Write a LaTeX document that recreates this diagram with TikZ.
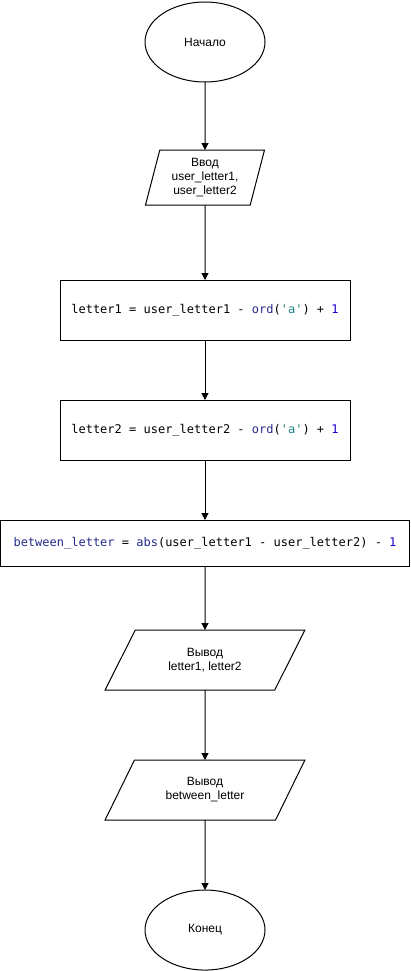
\documentclass[tikz,border=0pt]{standalone}
\usepackage{fontspec}
\setmainfont{Liberation Sans}
\setmonofont{DejaVu Sans Mono}
\usetikzlibrary{arrows.meta, positioning, shapes.geometric}
\definecolor{cnavy}{HTML}{262B8C}
\definecolor{cteal}{HTML}{1F7F80}
\definecolor{cnum}{HTML}{1C00CF}
\newcommand{\kw}[1]{\textcolor{cnavy}{#1}}
\newcommand{\str}[1]{\textcolor{cteal}{#1}}
\newcommand{\num}[1]{\textcolor{cnum}{#1}}
\tikzset{
  every picture/.style={font=\fontsize{12}{14}\selectfont, line width=1pt},
  every node/.style={outer sep=0pt},
  term/.style={draw, ellipse, minimum width=120pt, minimum height=80pt, inner sep=0pt},
  io/.style={draw, trapezium, trapezium left angle=#1, trapezium right angle=180-#1,
    trapezium stretches=true, align=center, inner sep=0pt},
  proc/.style={draw, rectangle, align=center, inner sep=0pt, font=\ttfamily\fontsize{12}{14}\selectfont},
  arrow/.style={-{Triangle[length=7pt, width=7pt]}},
}

\begin{document}
\begin{tikzpicture}
  \useasboundingbox (0,0) rectangle (411pt,-971pt);
  \node[term] (start) at (205pt,-42pt) {Начало};
  \node[io=74.7, minimum width=120pt, minimum height=55pt, below=68pt of start] (input) {Ввод\\user\_letter1,\\user\_letter2};
  \node[proc, minimum width=290pt, minimum height=60pt, below=75pt of input] (calc1)
    {letter1 = user\_letter1 - \kw{ord}(\str{'a'}) + \num{1}};
  \node[proc, minimum width=290pt, minimum height=60pt, below=60pt of calc1] (calc2)
    {letter2 = user\_letter2 - \kw{ord}(\str{'a'}) + \num{1}};
  \node[proc, minimum width=409pt, minimum height=46pt, below=60pt of calc2] (between)
    {\kw{between\_letter} = \kw{abs}(user\_letter1 - user\_letter2) - \num{1}};
  \node[io=56.3, minimum width=200pt, minimum height=60pt, below=64pt of between] (out1) {Вывод\\letter1, letter2};
  \node[io=56.3, minimum width=200pt, minimum height=60pt, below=70pt of out1] (out2) {Вывод\\between\_letter};
  \node[term, below=70pt of out2] (finish) {Конец};

  \draw[arrow] (start) -- (input);
  \draw[arrow] (input) -- (calc1);
  \draw[arrow] (calc1) -- (calc2);
  \draw[arrow] (calc2) -- (between);
  \draw[arrow] (between) -- (out1);
  \draw[arrow] (out1) -- (out2);
  \draw[arrow] (out2) -- (finish);
\end{tikzpicture}
\end{document}
